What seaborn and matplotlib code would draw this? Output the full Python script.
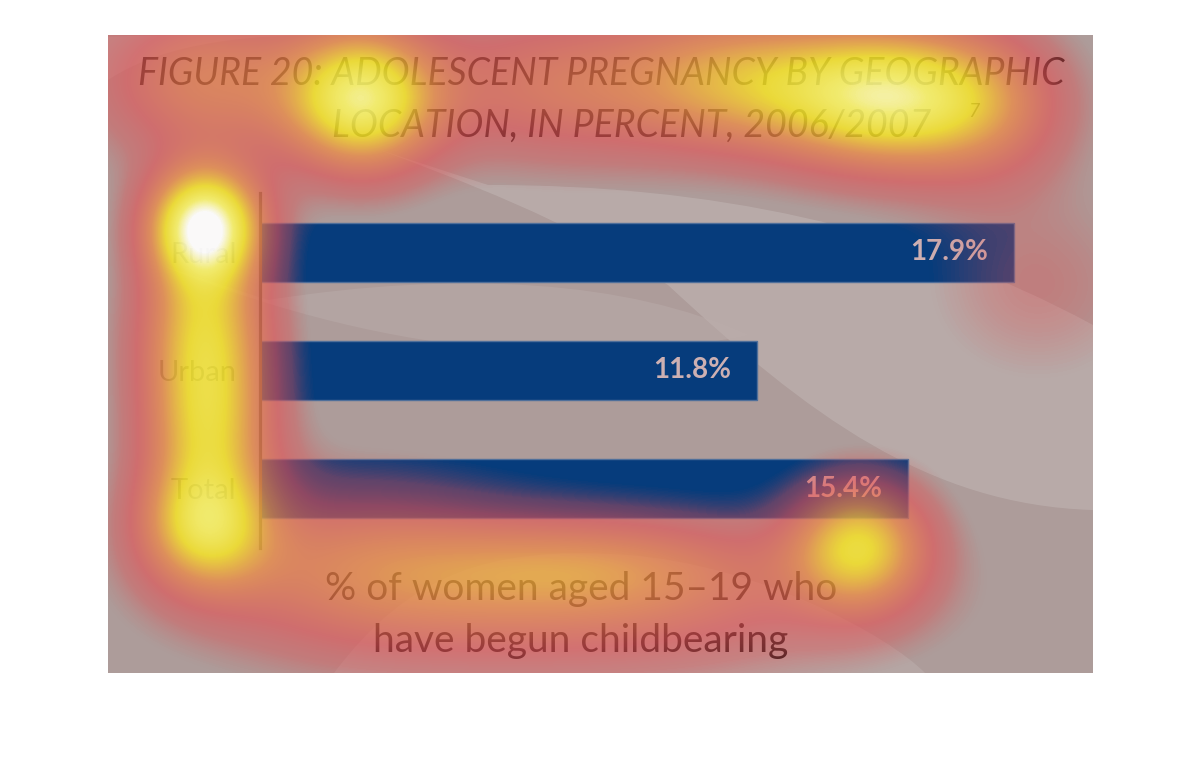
import numpy as np
import pandas as pd
import matplotlib
matplotlib.use("Agg")
from matplotlib import pyplot as plt
from matplotlib.colors import LinearSegmentedColormap
from matplotlib.path import Path
from matplotlib.patches import PathPatch
import seaborn as sns

locations = ["Rural", "Urban", "Total"]
percent = [17.9, 11.8, 15.4]
value_labels = ["17.9%", "11.8%", "15.4%"]

title_top = "FIGURE 20: ADOLESCENT PREGNANCY BY GEOGRAPHIC"
title_bottom = "LOCATION, IN PERCENT, 2006/2007"
footnote_mark = "7"
caption_lines = ["% of women aged 15\u201319 who", "have begun childbearing"]

# eye-tracking fixations over the slide, slide pixels (0, 0 = top left)
gaze_x = [97, 97, 100, 97, 254, 778, 452, 632, 100, 752, 472, 242, 930, 480, 880]
gaze_y = [190, 290, 390, 490, 65, 62, 50, 45, 45, 510, 565, 525, 250, 530, 70]
gaze_weight = [1.25, 0.72, 0.72, 0.8, 1.0, 1.0, 0.42, 0.55, 0.5, 0.8, 0.4, 0.35, 0.16, 0.3, 0.35]
gaze_sx = [40, 46, 46, 46, 52, 78, 110, 80, 80, 48, 200, 110, 80, 120, 60]
gaze_sy = [40, 55, 55, 45, 50, 50, 55, 50, 55, 45, 55, 60, 70, 35, 55]

W, H = 985, 638
FW, FH = 1202, 768

sns.set_style("white")
plt.rcParams["font.family"] = ["Lato", "DejaVu Sans"]

fig = plt.figure(figsize=(FW / 100, FH / 100), dpi=100)
fig.patch.set_facecolor("white")

panel = [108 / FW, 1 - 673 / FH, W / FW, H / FH]

# slide background with soft lighter swooshes
ax_bg = fig.add_axes(panel, zorder=0)
ax_bg.set_xlim(0, W)
ax_bg.set_ylim(H, 0)
ax_bg.axis("off")
ax_bg.add_patch(plt.Rectangle((0, 0), W, H, facecolor="#ad9c9a", edgecolor="none"))


def swoosh(verts, color, alpha):
    codes = [Path.MOVETO] + [Path.CURVE4] * (len(verts) - 2) + [Path.CLOSEPOLY]
    ax_bg.add_patch(PathPatch(Path(verts, codes), facecolor=color,
                              edgecolor="none", alpha=alpha))


# diagonal light band
swoosh([(380, 150), (600, 150), (800, 190), (985, 290),
        (985, 380), (985, 475), (985, 475),
        (820, 470), (700, 380), (560, 250),
        (480, 200), (420, 170), (380, 150)], "#c2b7b5", 0.55)
# band between top bars
swoosh([(160, 265), (350, 235), (520, 245), (640, 300),
        (500, 330), (300, 330), (160, 265)], "#bcaeac", 0.45)
# bottom arch
swoosh([(226, 638), (300, 540), (380, 510), (520, 520),
        (650, 530), (780, 600), (817, 638), (226, 638)], "#bfb3b1", 0.45)
# top-left arc
swoosh([(0, 45), (60, 5), (150, 0), (220, 0), (0, 0), (0, 0), (0, 45)], "#bdb1af", 0.5)

title_kw = dict(va="baseline", fontsize=27, style="italic", color="#1e1414")
ax_bg.text(493, 50, title_top, ha="center", **title_kw)
ax_bg.text(224, 102, title_bottom, ha="left", **title_kw)
ax_bg.text(860, 82, footnote_mark, ha="left", va="baseline", fontsize=14,
           style="italic", color="#1e1414")
ax_bg.text(473, 565, caption_lines[0], ha="center", va="baseline", fontsize=28,
           color="#1e1414")
ax_bg.text(473, 617, caption_lines[1], ha="center", va="baseline", fontsize=28,
           color="#1e1414")

# the bar chart itself
ax = fig.add_axes([260 / FW, 1 - 548 / FH, (1093 - 260) / FW, 355 / FH], zorder=1)
ax.patch.set_alpha(0)
df = pd.DataFrame({"location": locations, "percent": percent})
sns.barplot(data=df, x="percent", y="location", orient="h", color="#063c7c",
            saturation=1, width=0.5, edgecolor="#4f6f9a", linewidth=1, ax=ax)
px_per_unit = 42.1
ax.set_xlim(0, (1093 - 260) / px_per_unit)
ax.set_ylim(2.5, -0.5)
ax.set_xlabel("")
ax.set_ylabel("")
ax.set_xticks([])
for side in ["top", "right", "bottom"]:
    ax.spines[side].set_visible(False)
ax.spines["left"].set_color("#5e5448")
ax.spines["left"].set_linewidth(2.3)
ax.tick_params(axis="y", length=0, pad=17, labelsize=21, labelcolor="#5c5252")
for i, (v, lab) in enumerate(zip(percent, value_labels)):
    ax.text(v - 26 / px_per_unit, i, lab, ha="right", va="center", fontsize=20,
            fontweight="bold", color="#cdb0b2")

# gaze heat overlay
yy, xx = np.mgrid[0:H, 0:W] + 0.5
heat = np.zeros((H, W))
for gx, gy, gw, sx, sy in zip(gaze_x, gaze_y, gaze_weight, gaze_sx, gaze_sy):
    heat += gw * np.exp(-((xx - gx) ** 2 / (2 * sx ** 2) + (yy - gy) ** 2 / (2 * sy ** 2)))

heat_cmap = LinearSegmentedColormap.from_list("gaze", [
    (0.0, (0.86, 0.30, 0.30, 0.0)),
    (0.05, (0.86, 0.30, 0.30, 0.0)),
    (0.13, (0.88, 0.31, 0.32, 0.42)),
    (0.23, (0.90, 0.32, 0.33, 0.62)),
    (0.46, (0.94, 0.55, 0.27, 0.74)),
    (0.68, (0.97, 0.90, 0.15, 0.84)),
    (0.86, (0.98, 0.96, 0.42, 0.9)),
    (1.0, (1.0, 1.0, 1.0, 0.95)),
])
ax_heat = fig.add_axes(panel, zorder=2)
ax_heat.imshow(heat, cmap=heat_cmap, vmin=0, vmax=1.3, extent=(0, W, H, 0),
               interpolation="bilinear", aspect="auto")
ax_heat.set_xlim(0, W)
ax_heat.set_ylim(H, 0)
ax_heat.axis("off")

fig.savefig("out.png", dpi=100)
